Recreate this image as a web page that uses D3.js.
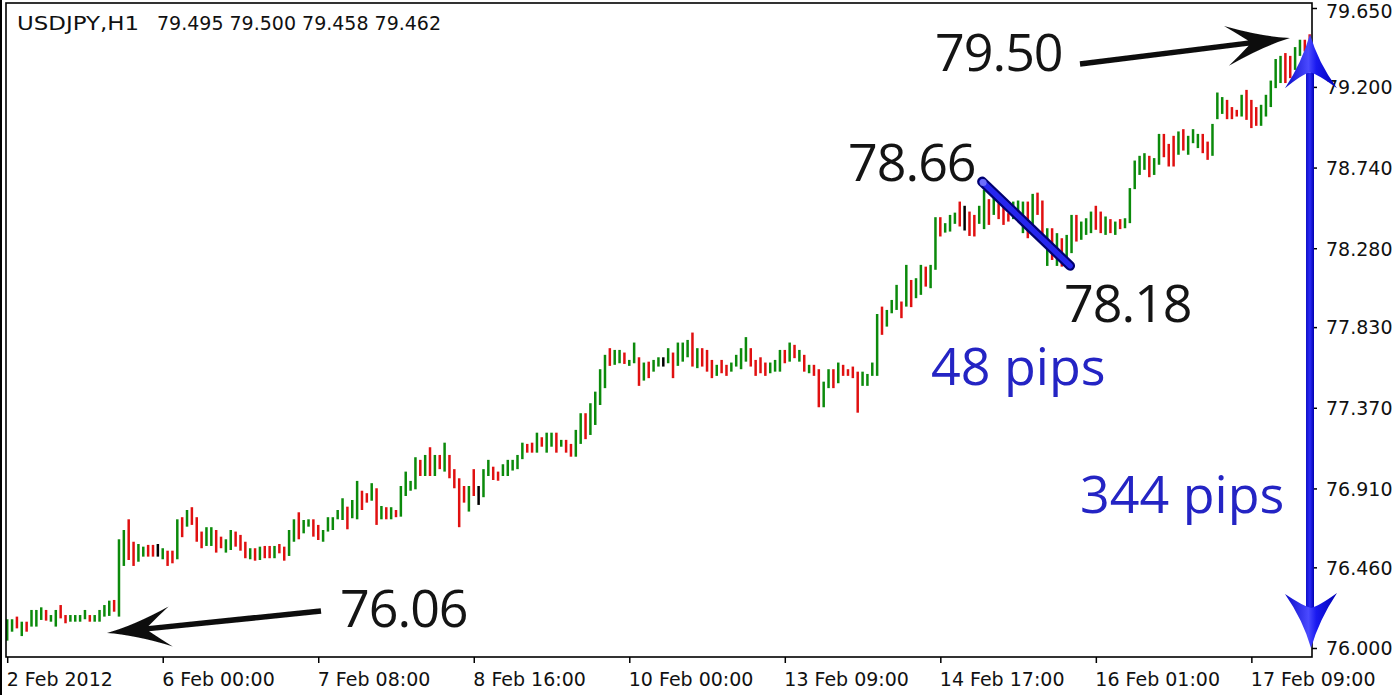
<!DOCTYPE html>
<html><head><meta charset="utf-8">
<script src="https://cdnjs.cloudflare.com/ajax/libs/d3/7.8.5/d3.min.js"></script>
<style>html,body{margin:0;padding:0;background:#fff;overflow:hidden}</style>
</head><body>
<svg id="chart" width="1400" height="695"></svg>
<script>
// ---------------- DATA ----------------
const symbolLabel = "USDJPY,H1";
const lastBarOHLC = ["79.495", "79.500", "79.458", "79.462"];

// hourly bar highs (2 Feb 2012 16:00 ... 17 Feb 2012 20:00)
const highs = [
76.164,76.164,76.179,76.150,76.150,76.217,76.217,76.232,76.217,76.188,
76.217,76.245,76.188,76.188,76.188,76.188,76.217,76.188,76.188,76.217,
76.245,76.270,76.274,76.620,76.673,76.734,76.606,76.593,76.578,76.588,
76.588,76.593,76.569,76.555,76.555,76.734,76.746,76.787,76.803,76.746,
76.664,76.689,76.689,76.673,76.635,76.620,76.673,76.664,76.645,76.606,
76.569,76.569,76.578,76.582,76.582,76.582,76.593,76.578,76.673,76.734,
76.774,76.730,76.734,76.734,76.702,
76.673,76.746,76.746,76.787,76.854,76.806,76.844,76.953,76.897,76.883,
76.940,76.911,76.810,76.803,76.803,76.787,76.924,77.006,76.953,77.088,
77.073,77.101,77.145,77.101,77.101,77.171,77.101,77.020,76.968,76.924,
76.924,77.020,76.924,77.020,77.073,77.034,77.006,77.048,77.073,77.073,
77.101,77.171,77.164,77.171,77.228,77.202,77.228,77.228,77.228,77.187,
77.187,77.164,77.244,77.339,77.339,77.396,77.462,77.590,77.672,77.710,
77.700,77.700,77.685,77.643,77.742,77.658,77.628,77.633,77.643,77.658,
77.658,77.710,77.685,77.742,77.742,77.757,77.799,77.710,77.710,77.700,
77.643,77.615,77.643,77.615,77.628,77.672,77.710,77.773,77.710,77.643,
77.658,77.628,77.628,77.643,77.700,77.700,77.742,77.729,77.700,77.672,
77.615,77.615,77.590,77.519,77.590,77.590,77.628,77.615,77.590,77.605,
77.576,77.576,77.563,77.628,77.905,77.947,77.928,77.985,78.071,77.976,
78.185,78.099,78.109,78.185,78.175,78.185,78.457,78.457,78.423,78.470,
78.483,78.546,78.522,78.489,78.470,78.522,78.613,78.560,78.575,78.537,
78.522,78.480,78.546,78.552,78.546,78.546,78.590,78.597,78.552,78.394,
78.394,78.366,78.337,78.356,78.470,78.470,78.432,78.451,78.489,78.522,
78.489,78.461,78.446,78.432,78.446,78.451,78.623,78.780,78.807,78.822,
78.807,78.794,78.932,78.932,78.875,78.921,78.946,78.959,78.921,78.959,
78.932,78.932,78.888,78.989,79.168,79.142,79.126,79.085,79.069,79.155,
79.183,79.126,79.085,79.098,79.155,79.236,79.359,79.377,79.393,79.377,
79.427,79.469,79.469,79.500
];

const lows = [
76.042,76.093,76.112,76.068,76.093,76.122,76.122,76.160,76.156,76.150,
76.122,76.169,76.141,76.150,76.150,76.150,76.164,76.150,76.150,76.150,
76.179,76.183,76.207,76.179,76.468,76.502,76.468,76.492,76.521,76.521,
76.521,76.521,76.506,76.468,76.483,76.506,76.632,76.692,76.702,76.606,
76.569,76.582,76.582,76.544,76.569,76.544,76.559,76.578,76.555,76.512,
76.506,76.498,76.502,76.512,76.512,76.512,76.540,76.498,76.525,76.606,
76.620,76.654,76.692,76.635,76.616,
76.606,76.664,76.673,76.734,76.730,76.677,76.740,76.734,76.787,76.829,
76.840,76.702,76.734,76.734,76.734,76.746,76.749,76.867,76.897,76.905,
76.981,76.981,76.981,76.981,77.020,77.006,76.968,76.911,76.689,76.829,
76.778,76.867,76.816,76.860,76.981,76.958,76.954,76.981,76.981,77.012,
77.020,77.077,77.114,77.114,77.114,77.148,77.114,77.148,77.114,77.148,
77.114,77.091,77.091,77.164,77.191,77.215,77.272,77.386,77.482,77.609,
77.615,77.624,77.620,77.609,77.624,77.495,77.525,77.539,77.576,77.605,
77.605,77.624,77.539,77.609,77.633,77.658,77.605,77.596,77.605,77.576,
77.539,77.552,77.567,77.552,77.576,77.605,77.590,77.633,77.605,77.552,
77.567,77.552,77.567,77.576,77.576,77.624,77.633,77.653,77.633,77.576,
77.567,77.552,77.373,77.373,77.482,77.482,77.510,77.552,77.552,77.539,
77.342,77.495,77.495,77.552,77.552,77.786,77.833,77.909,77.928,77.881,
77.947,77.944,77.995,78.014,78.061,78.052,78.157,78.347,78.369,78.375,
78.419,78.404,78.381,78.350,78.347,78.419,78.389,78.413,78.470,78.446,
78.413,78.432,78.446,78.470,78.366,78.337,78.389,78.470,78.328,78.179,
78.213,78.179,78.175,78.195,78.252,78.318,78.328,78.356,78.366,78.385,
78.366,78.356,78.366,78.356,78.389,78.394,78.423,78.617,78.698,78.727,
78.685,78.698,78.756,78.799,78.746,78.746,78.813,78.837,78.813,78.879,
78.851,78.822,78.784,78.807,79.016,79.046,79.016,79.016,79.031,79.031,
79.012,78.965,78.978,78.978,79.031,79.085,79.193,79.222,79.222,79.250,
79.297,79.377,79.402,79.458
];

// bar direction: 1 = up (green), -1 = down (red), 0 = unchanged (black)
const dirs = [
1,1,-1,1,-1,1,1,1,-1,1,
1,-1,-1,1,1,1,1,-1,1,1,
1,1,-1,1,1,-1,-1,1,1,-1,
-1,0,1,-1,-1,1,-1,1,-1,-1,
-1,1,1,-1,-1,1,1,-1,-1,-1,
1,-1,1,-1,-1,1,-1,-1,1,1,
-1,1,1,-1,-1,
1,1,1,1,1,-1,1,1,-1,-1,
1,-1,1,-1,1,-1,1,1,1,1,
-1,1,-1,1,-1,1,-1,-1,-1,-1,
1,-1,0,1,1,-1,-1,1,1,1,
1,1,-1,-1,1,-1,1,1,-1,1,
-1,-1,1,1,-1,1,1,1,1,-1,
1,1,-1,1,1,-1,1,-1,1,1,
0,1,-1,1,1,1,-1,1,-1,-1,
-1,1,-1,-1,1,1,1,1,-1,-1,
-1,-1,1,1,1,-1,1,-1,1,-1,
1,-1,-1,1,1,-1,1,-1,-1,-1,
-1,1,1,1,1,-1,1,1,1,-1,
1,-1,1,1,-1,1,1,-1,1,1,
1,-1,0,-1,-1,1,1,-1,1,-1,
-1,-1,1,1,1,-1,1,-1,-1,1,
-1,1,-1,1,1,-1,1,1,1,-1,
-1,1,-1,1,-1,1,1,1,1,1,
-1,1,1,-1,-1,-1,1,-1,1,1,
1,-1,-1,1,1,1,-1,-1,-1,1,
-1,-1,-1,1,1,1,1,1,-1,-1,
1,1,-1,-1
];

const xTickIndex = [0, 32, 64, 96, 128, 160, 192, 224, 256];
const xTickLabels = ["2 Feb 2012", "6 Feb 00:00", "7 Feb 08:00", "8 Feb 16:00", "10 Feb 00:00",
                     "13 Feb 09:00", "14 Feb 17:00", "16 Feb 01:00", "17 Feb 09:00"];
const yTickValues = [76.000, 76.460, 76.910, 77.370, 77.830, 78.280, 78.740, 79.200, 79.650];

// annotations
const priceNotes = ["79.50", "78.66", "78.18", "76.06"];
const pipNotes = ["48 pips", "344 pips"];
const swingStart = [200.6, 78.66];   // [bar index, price]
const swingEnd = [218.7, 78.18];
const rangeLow = 76.00, rangeHigh = 79.50;

// ---------------- LAYOUT ----------------
const W = 1400, H = 695;
const plot = {left: 6, right: 1312, top: 3, bottom: 657};
const svg = d3.select("#chart");
svg.append("rect").attr("width", W).attr("height", H).attr("fill", "#fff");

const defs = svg.append("defs");
defs.append("filter").attr("id", "soft").attr("x", "-20%").attr("y", "-50%").attr("width", "140%").attr("height", "200%")
  .append("feGaussianBlur").attr("stdDeviation", 0.7);
const bg = defs.append("linearGradient").attr("id", "blueHead").attr("x1", "0%").attr("x2", "100%").attr("y1", "0%").attr("y2", "0%");
bg.append("stop").attr("offset", "0%").attr("stop-color", "#0a0ac8");
bg.append("stop").attr("offset", "45%").attr("stop-color", "#4a4aff");
bg.append("stop").attr("offset", "60%").attr("stop-color", "#1a1af0");
bg.append("stop").attr("offset", "100%").attr("stop-color", "#0000b4");
const bs = defs.append("linearGradient").attr("id", "blueShaft").attr("x1", "0%").attr("x2", "100%");
bs.append("stop").attr("offset", "0%").attr("stop-color", "#1010c8");
bs.append("stop").attr("offset", "50%").attr("stop-color", "#2a2af5");
bs.append("stop").attr("offset", "100%").attr("stop-color", "#0000b0");

const x = d3.scaleLinear().domain([0, highs.length - 1]).range([7.2, 7.2 + (highs.length - 1) * 4.86]);
const y = d3.scaleLinear().domain([76.0, 79.65]).range([648, 8]);

const axisFont = "'DejaVu Sans', Verdana, sans-serif";

// header
svg.append("text").attr("x", 17).attr("y", 30).attr("font-family", axisFont).attr("font-size", 19)
  .attr("fill", "#111").attr("textLength", 122).attr("lengthAdjust", "spacingAndGlyphs").text(symbolLabel);
svg.append("text").attr("x", 157).attr("y", 30).attr("font-family", axisFont).attr("font-size", 19)
  .attr("fill", "#111").text(lastBarOHLC.join(" "));

// bars
const green = "#0b8a0b", red = "#e01010";
svg.append("g").selectAll("line").data(d3.range(highs.length)).join("line")
  .attr("x1", i => x(i)).attr("x2", i => x(i))
  .attr("y1", i => y(highs[i])).attr("y2", i => y(lows[i]))
  .attr("stroke", i => dirs[i] > 0 ? green : dirs[i] < 0 ? red : "#000")
  .attr("stroke-width", 2.5);

// frame
svg.append("rect").attr("x", plot.left).attr("y", plot.top)
  .attr("width", plot.right - plot.left).attr("height", plot.bottom - plot.top)
  .attr("fill", "none").attr("stroke", "#000").attr("stroke-width", 1.6);
svg.append("line").attr("x1", 1).attr("x2", 1).attr("y1", 0).attr("y2", H).attr("stroke", "#000").attr("stroke-width", 2);

// right price axis
const yAxis = svg.append("g").attr("transform", `translate(${plot.right},0)`)
  .call(d3.axisRight(y).tickValues(yTickValues).tickFormat(d3.format(".3f")).tickSize(5).tickPadding(9));
yAxis.select(".domain").remove();
yAxis.selectAll("line").attr("stroke", "#000").attr("stroke-width", 1.5);
yAxis.selectAll("text").attr("font-family", axisFont).attr("font-size", 19).attr("fill", "#111")
  .attr("dy", d => d === 79.65 ? "0.5em" : "0.36em");

// bottom time axis
const xAxis = svg.append("g").attr("transform", `translate(0,${plot.bottom})`)
  .call(d3.axisBottom(x).tickValues(xTickIndex).tickFormat((d, i) => xTickLabels[i]).tickSize(6));
xAxis.select(".domain").remove();
xAxis.selectAll("line").attr("stroke", "#000").attr("stroke-width", 1.5);
xAxis.selectAll("text").attr("font-family", axisFont).attr("font-size", 19).attr("fill", "#111")
  .attr("text-anchor", "start").attr("x", -1).attr("y", 29).attr("dy", null);

// ---------------- ANNOTATIONS ----------------
function fancyArrow(tail, tip) {
  const dx = tip[0] - tail[0], dy = tip[1] - tail[1];
  const len = Math.hypot(dx, dy);
  const u = [dx / len, dy / len], n = [-u[1], u[0]];
  const P = (s, t) => [tip[0] - u[0] * s + n[0] * t, tip[1] - u[1] * s + n[1] * t];
  const L = 64, Wd = 20, N = 42, w0 = 2.8, w1 = 2.6;
  const pts = (p) => p[0].toFixed(1) + "," + p[1].toFixed(1);
  return "M" + pts(P(len, w0)) + " L" + pts(P(N, w1)) +
    " Q" + pts(P(N + 10, Wd * 0.55)) + " " + pts(P(L, Wd)) +
    " Q" + pts(P(L * 0.42, Wd * 0.22)) + " " + pts(P(0, 0)) +
    " Q" + pts(P(L * 0.42, -Wd * 0.22)) + " " + pts(P(L, -Wd)) +
    " Q" + pts(P(N + 10, -Wd * 0.55)) + " " + pts(P(N, -w1)) +
    " L" + pts(P(len, -w0)) + " Z";
}
const ann = svg.append("g");
ann.append("path").attr("d", fancyArrow([1080, 64], [1290, 38])).attr("fill", "#111").attr("filter", "url(#soft)");
ann.append("path").attr("d", fancyArrow([321, 611], [107, 633])).attr("fill", "#111").attr("filter", "url(#soft)");

// swing line 78.66 -> 78.18
const s0 = [x(swingStart[0]), y(swingStart[1])], s1 = [x(swingEnd[0]), y(swingEnd[1])];
ann.append("line").attr("x1", s0[0]).attr("y1", s0[1]).attr("x2", s1[0]).attr("y2", s1[1])
  .attr("stroke", "#000070").attr("stroke-width", 10).attr("stroke-linecap", "round");
ann.append("line").attr("x1", s0[0]).attr("y1", s0[1]).attr("x2", s1[0]).attr("y2", s1[1])
  .attr("stroke", "#2626ee").attr("stroke-width", 5.5).attr("stroke-linecap", "round");
ann.append("circle").attr("cx", s0[0] + 1).attr("cy", s0[1] + 1).attr("r", 3.5).attr("fill", "#8080ff").attr("opacity", 0.8);

// vertical double arrow (range)
const ax = 1310, yTop = y(rangeHigh), yBot = y(rangeLow);
ann.append("rect").attr("x", ax - 4).attr("y", yTop + 38).attr("width", 8).attr("height", yBot - yTop - 76)
  .attr("fill", "url(#blueShaft)");
const headUp = `M${ax},${yTop} Q${ax + 8},${yTop + 28} ${ax + 27},${yTop + 54} Q${ax + 8},${yTop + 40} ${ax},${yTop + 38}
  Q${ax - 8},${yTop + 40} ${ax - 25},${yTop + 54} Q${ax - 8},${yTop + 28} ${ax},${yTop} Z`;
const headDn = `M${ax + 1},${yBot} Q${ax + 9},${yBot - 28} ${ax + 27},${yBot - 55} Q${ax + 9},${yBot - 42} ${ax + 1},${yBot - 40}
  Q${ax - 7},${yBot - 42} ${ax - 25},${yBot - 54} Q${ax - 7},${yBot - 28} ${ax + 1},${yBot} Z`;
ann.append("path").attr("d", headUp).attr("fill", "url(#blueHead)");
ann.append("path").attr("d", headDn).attr("fill", "url(#blueHead)");

// text notes
const noteFont = "'Open Sans', 'Noto Sans', sans-serif";
const notePos = [[935, 71], [848, 181], [1064, 322], [340, 627]];
priceNotes.forEach((t, i) => {
  ann.append("text").attr("x", notePos[i][0]).attr("y", notePos[i][1]).attr("font-family", noteFont)
    .attr("font-size", 52).attr("letter-spacing", -1).attr("fill", "#141414").text(t);
});
const pipPos = [[931, 385], [1080, 513]];
pipNotes.forEach((t, i) => {
  ann.append("text").attr("x", pipPos[i][0]).attr("y", pipPos[i][1]).attr("font-family", noteFont)
    .attr("font-size", 52).attr("fill", "#2424c4").text(t);
});
</script>
</body></html>
